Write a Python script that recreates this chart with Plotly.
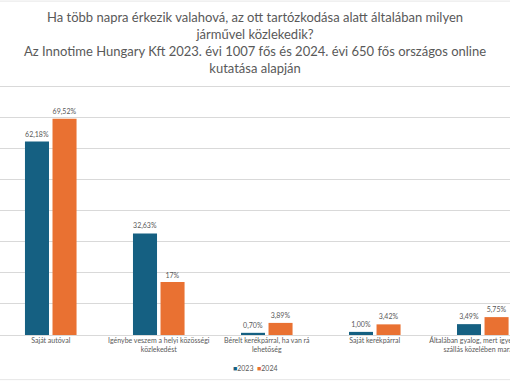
import plotly.graph_objects as go

categories = [
    "Saját autóval",
    "Igénybe veszem a helyi közösségi<br>közlekedést",
    "Bérelt kerékpárral, ha van rá<br>lehetőség",
    "Saját kerékpárral",
    "Általában gyalog, mert igyekszem a<br>szállás közelében maradni",
]
values_2023 = [62.18, 32.63, 0.70, 1.00, 3.49]
values_2024 = [69.52, 17.0, 3.89, 3.42, 5.75]
labels_2023 = ["62,18%", "32,63%", "0,70%", "1,00%", "3,49%"]
labels_2024 = ["69,52%", "17%", "3,89%", "3,42%", "5,75%"]
series_names = ["2023", "2024"]
colors = ["#156082", "#E97132"]

FONT = "Lato, 'Noto Sans', sans-serif"
GREY = "#595959"
W, H = 510, 382
BASE = 335.3
PX_PER = 3.115
YMAX = 81
T = BASE - YMAX * PX_PER
B = H - BASE
PH = H - T - B


def py_to_paper(py):
    return (BASE - py) / PH


fig = go.Figure()
for name, vals, labs, col in zip(series_names, [values_2023, values_2024],
                                 [labels_2023, labels_2024], colors):
    fig.add_trace(go.Bar(
        name=name, x=list(range(len(categories))), y=vals,
        marker=dict(color=col, line=dict(width=0)),
        text=labs, textposition="outside",
        textfont=dict(size=7, color=GREY, family=FONT), cliponaxis=False,
        showlegend=False,
    ))

title_text = ("Ha több napra érkezik valahová, az ott tartózkodása alatt általában milyen<br>"
              "járművel közlekedik?<br>"
              "Az Innotime Hungary Kft 2023. évi 1007 fős és 2024. évi 650 fős országos online<br>"
              "kutatása alapján")

legend_text = (f"<span style='color:{colors[0]}'>■</span>{series_names[0]}  "
               f"<span style='color:{colors[1]}'>■</span>{series_names[1]}")

fig.update_layout(
    width=W, height=H,
    margin=dict(l=0, r=0, t=T, b=B, autoexpand=False),
    paper_bgcolor="white", plot_bgcolor="white",
    barmode="group", bargap=0.49, bargroupgap=0.127,
    font=dict(family=FONT, color=GREY),
    showlegend=False,
    xaxis=dict(
        tickmode="array", tickvals=list(range(len(categories))), ticktext=categories,
        range=[-0.470, 4.252], showgrid=False, ticks="", automargin=False,
        tickfont=dict(size=7, color=GREY, family=FONT), ticklabeloverflow="allow",
        showline=False, zeroline=False,
    ),
    yaxis=dict(
        range=[0, YMAX], dtick=10, showgrid=True, gridcolor="#d9d9d9", gridwidth=1,
        showticklabels=False, zeroline=True, zerolinecolor="#d9d9d9", zerolinewidth=1,
        automargin=False,
    ),
    annotations=[
        dict(text=title_text, xref="paper", yref="paper", x=0.5, xanchor="center",
             y=py_to_paper(42.6), yanchor="middle", showarrow=False,
             font=dict(size=13, color=GREY, family=FONT)),
        dict(text=legend_text, xref="paper", yref="paper", x=0.5, xanchor="center",
             y=py_to_paper(368), yanchor="middle", showarrow=False,
             font=dict(size=7, color=GREY, family=FONT)),
    ],
    shapes=[
        dict(type="line", xref="paper", yref="paper", x0=0, x1=1,
             y0=py_to_paper(1), y1=py_to_paper(1), line=dict(color="#e6e6e6", width=1)),
        dict(type="line", xref="paper", yref="paper", x0=0, x1=1,
             y0=py_to_paper(380), y1=py_to_paper(380), line=dict(color="#e6e6e6", width=1)),
    ],
)

fig.write_html("out.html", config={"displayModeBar": False},
               post_script="document.body.style.margin='0';")
